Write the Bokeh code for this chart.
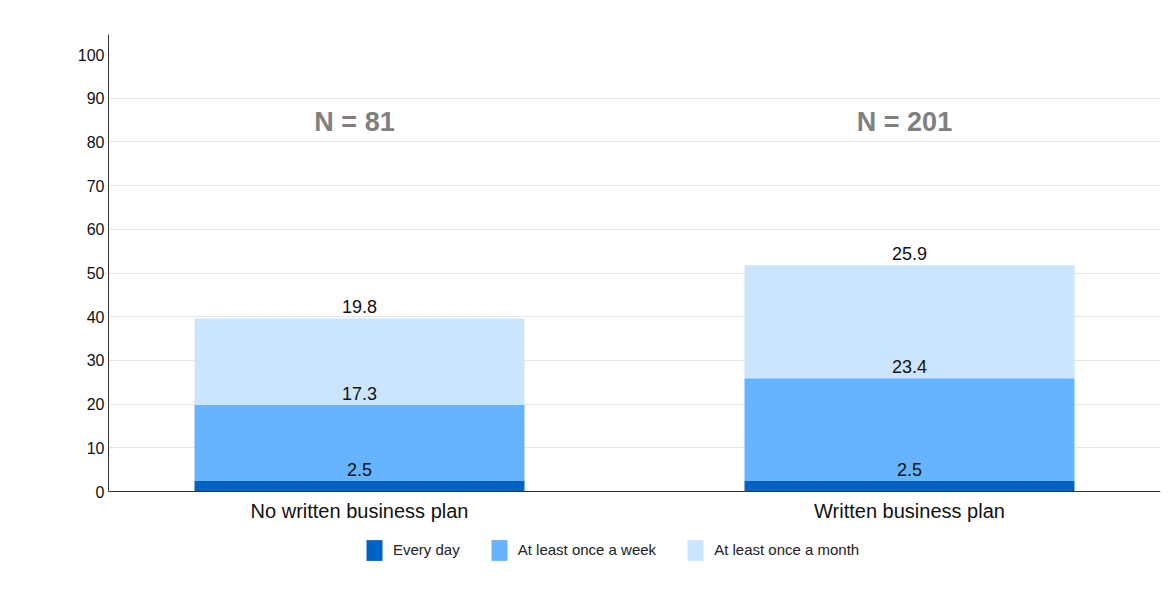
from bokeh.plotting import figure
from bokeh.models import (Range1d, FixedTicker, ColumnDataSource, Legend,
                          LegendItem, LabelSet)
from bokeh.core.properties import value
from bokeh.embed import file_html
from bokeh.resources import INLINE

# ---- data ----
categories = ["No written business plan", "Written business plan"]
series_names = ["Every day", "At least once a week", "At least once a month"]
every_day = [2.5, 2.5]
once_a_week = [17.3, 23.4]
once_a_month = [19.8, 25.9]
n_labels = ["N = 81", "N = 201"]
y_tick_values = [0, 10, 20, 30, 40, 50, 60, 70, 80, 90, 100]
grid_values = [0, 10, 20, 30, 40, 50, 60, 70, 80, 90]

# ---- style ----
colors = ["#0062c4", "#66b3ff", "#cce5ff"]
FONT = "Liberation Sans"
N_LABEL_Y = 82.6
Y_TOP = 104.6
Y_BOTTOM = -18.08   # room below zero for the legend

x_pos = [i + 0.5 for i in range(len(categories))]
keys = ["every_day", "once_a_week", "once_a_month"]
series_values = [every_day, once_a_week, once_a_month]

source = ColumnDataSource(dict(x=x_pos, every_day=every_day,
                               once_a_week=once_a_week,
                               once_a_month=once_a_month))

p = figure(width=1167, height=588,
           x_range=Range1d(0.0436, 1.9564), y_range=Range1d(Y_BOTTOM, Y_TOP),
           output_backend="svg", toolbar_location=None,
           min_border_left=108, min_border_right=7,
           min_border_top=34, min_border_bottom=18)
p.outline_line_color = None
p.background_fill_color = "white"
p.border_fill_color = "white"

renderers = p.vbar_stack(keys, x="x", width=0.6, color=colors,
                         line_color=None, source=source)

# value labels at the top of each segment
lx, ly, lt = [], [], []
cum = [0.0] * len(categories)
for vals in series_values:
    for i, v in enumerate(vals):
        cum[i] += v
        lx.append(x_pos[i])
        ly.append(cum[i])
        lt.append(f"{v:.1f}")
lab_src = ColumnDataSource(dict(x=lx, y=ly, text=lt))
p.add_layout(LabelSet(x="x", y="y", text="text", source=lab_src,
                      text_align="center", text_baseline="alphabetic",
                      y_offset=5, text_font=value(FONT),
                      text_font_size=value("18px"),
                      text_color=value("#111111")))

n_src = ColumnDataSource(dict(x=x_pos, y=[N_LABEL_Y] * len(x_pos), text=n_labels))
p.add_layout(LabelSet(x="x", y="y", text="text", source=n_src,
                      text_align="center", text_baseline="alphabetic",
                      x_offset=-5,
                      text_font=value(FONT), text_font_size=value("27px"),
                      text_font_style="bold", text_color=value("#808080")))

# axes
p.xaxis.fixed_location = 0
p.xaxis.ticker = FixedTicker(ticks=x_pos)
p.xaxis.major_label_overrides = {x: c for x, c in zip(x_pos, categories)}
p.xaxis.major_tick_line_color = None
p.xaxis.major_tick_out = 0
p.xaxis.minor_tick_line_color = None
p.xaxis.axis_line_color = "#333333"
p.xaxis.major_label_text_font = FONT
p.xaxis.major_label_text_font_size = "20px"
p.xaxis.major_label_text_color = "#111111"
p.xaxis.major_label_standoff = 8

p.yaxis.ticker = FixedTicker(ticks=y_tick_values)
p.yaxis.bounds = (0, Y_TOP)
p.yaxis.major_tick_line_color = None
p.yaxis.major_tick_out = 0
p.yaxis.minor_tick_line_color = None
p.yaxis.axis_line_color = "#333333"
p.yaxis.major_label_text_font = FONT
p.yaxis.major_label_text_font_size = "16px"
p.yaxis.major_label_text_color = "#111111"
p.yaxis.major_label_standoff = 4

p.xgrid.grid_line_color = None
p.ygrid.ticker = FixedTicker(ticks=grid_values)
p.ygrid.grid_line_color = "#e6e6e6"

legend = Legend(items=[LegendItem(label=n, renderers=[r])
                       for n, r in zip(series_names, renderers)],
                orientation="horizontal", location=(256, 7.5),
                glyph_width=20, glyph_height=26, label_standoff=9,
                spacing=29, padding=0, border_line_color=None,
                background_fill_alpha=0, label_text_font=FONT,
                label_text_font_size="15px", label_text_color="#222222")
p.add_layout(legend, "center")

open("out.html", "w").write(file_html(p, INLINE))
